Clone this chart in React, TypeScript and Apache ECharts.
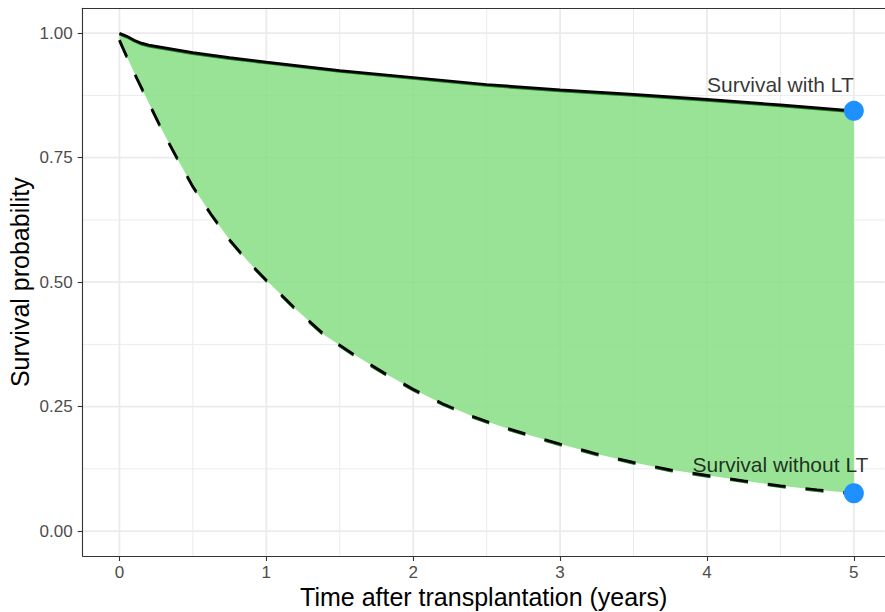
import React, { useEffect, useRef } from "react";
import * as echarts from "echarts";

// Survival with liver transplantation (solid)
const upperT = [0, 0.05, 0.1, 0.15, 0.2, 0.3, 0.5, 0.75, 1, 1.5, 2, 2.5, 3, 3.5, 4, 4.5, 5];
const upperS = [1.0, 0.994, 0.986, 0.98, 0.976, 0.971, 0.961, 0.951, 0.942, 0.925, 0.911, 0.897, 0.886, 0.877, 0.867, 0.856, 0.844];

// Survival without liver transplantation (dashed)
const lowerT = [0, 0.05, 0.1, 0.2, 0.3, 0.4, 0.5, 0.625, 0.75, 0.875, 1, 1.2, 1.4, 1.6, 1.8, 2, 2.2, 2.4, 2.6, 2.8, 3, 3.25, 3.5, 3.75, 4, 4.25, 4.5, 4.75, 5];
const lowerS = [0.986, 0.953, 0.921, 0.86, 0.8, 0.745, 0.692, 0.636, 0.585, 0.542, 0.504, 0.446, 0.393, 0.354, 0.318, 0.285, 0.256, 0.231, 0.21, 0.192, 0.175, 0.155, 0.138, 0.123, 0.112, 0.101, 0.091, 0.083, 0.076];

// End points (blue dots)
const endT = [5, 5];
const endS = [0.844, 0.076];

// Annotations
const labelT = [4.5, 4.5];
const labelS = [0.8966, 0.1334];
const labelText = ["Survival with LT", "Survival without LT"];

// Axis ticks and grid
const xTicks = [0, 1, 2, 3, 4, 5];
const xMinor = [0.5, 1.5, 2.5, 3.5, 4.5];
const yTicks = [0, 0.25, 0.5, 0.75, 1];
const yMinor = [0.125, 0.375, 0.625, 0.875];

const FONT = "Liberation Sans, Arial, Helvetica, sans-serif";
const X_MIN = -0.25;
const X_MAX = 5.21;

export default function App() {
  const ref = useRef<HTMLDivElement>(null);

  useEffect(() => {
    if (!ref.current) return;
    const chart = echarts.init(ref.current, undefined, { renderer: "svg" });

    const upperData = upperT.map((t, i) => [t, upperS[i]]);
    const lowerData = lowerT.map((t, i) => [t, lowerS[i]]);

    const vGrid = (vals: number[], width: number) => ({
      type: "custom",
      silent: true,
      z: 0,
      data: vals.map((v) => [v, 0]),
      encode: { x: 0, y: 1 },
      renderItem: (params: any, api: any) => {
        const cs = params.coordSys;
        const x = api.coord([api.value(0), 0])[0];
        return {
          type: "line",
          shape: { x1: x, y1: cs.y, x2: x, y2: cs.y + cs.height },
          style: { stroke: "#ebebeb", lineWidth: width },
        };
      },
    });
    const hGrid = (vals: number[], width: number) => ({
      type: "custom",
      silent: true,
      z: 0,
      data: vals.map((v) => [0, v]),
      encode: { x: 0, y: 1 },
      renderItem: (params: any, api: any) => {
        const cs = params.coordSys;
        const y = api.coord([0, api.value(1)])[1];
        return {
          type: "line",
          shape: { x1: cs.x, y1: y, x2: cs.x + cs.width, y2: y },
          style: { stroke: "#ebebeb", lineWidth: width },
        };
      },
    });

    const axisLine = { show: true, onZero: false, lineStyle: { color: "#333333", width: 1.1 } };

    const option: any = {
      animation: false,
      textStyle: { fontFamily: FONT },
      grid: {
        left: 82.7,
        right: 0.3,
        top: 8.3,
        bottom: 56,
        show: false,
        containLabel: false,
        outerBoundsMode: "none",
      },
      xAxis: [
        {
          type: "value",
          min: X_MIN,
          max: X_MAX,
          position: "bottom",
          axisLine,
          axisTick: {
            show: true,
            customValues: xTicks,
            length: 5,
            lineStyle: { color: "#333333", width: 1.1 },
          },
          axisLabel: {
            customValues: xTicks,
            color: "#4d4d4d",
            fontSize: 17,
            margin: 8,
            fontFamily: FONT,
            formatter: (v: number) => String(v),
          },
          splitLine: { show: false },
          name: "Time after transplantation (years)",
          nameLocation: "middle",
          nameGap: 28,
          nameMoveOverlap: false,
          nameTextStyle: { color: "#000", fontSize: 25, fontFamily: FONT },
        },
        {
          type: "value",
          min: X_MIN,
          max: X_MAX,
          position: "top",
          axisLine,
          axisTick: { show: false },
          axisLabel: { show: false },
          splitLine: { show: false },
        },
      ],
      yAxis: {
        type: "value",
        min: -0.05,
        max: 1.05,
        axisLine,
        axisTick: {
          show: true,
          customValues: yTicks,
          length: 5,
          lineStyle: { color: "#333333", width: 1.1 },
        },
        axisLabel: {
          customValues: yTicks,
          color: "#4d4d4d",
          fontSize: 17,
          margin: 10,
          fontFamily: FONT,
          formatter: (v: number) => v.toFixed(2),
        },
        splitLine: { show: false },
        name: "Survival probability",
        nameLocation: "middle",
        nameGap: 50,
        nameMoveOverlap: false,
        nameTextStyle: { color: "#000", fontSize: 25, fontFamily: FONT },
      },
      series: [
        vGrid(xMinor, 1),
        hGrid(yMinor, 1),
        vGrid(xTicks, 1.8),
        hGrid(yTicks, 1.8),
        {
          type: "custom",
          silent: true,
          z: 1,
          data: [[0, 1]],
          encode: { x: 0, y: 1 },
          renderItem: (_params: any, api: any) => {
            const up = upperData.map((p) => api.coord(p));
            const lo = lowerData.map((p) => api.coord(p));
            const poly = up.concat(lo.slice().reverse());
            return {
              type: "group",
              children: [
                {
                  type: "polygon",
                  shape: { points: poly },
                  style: { fill: "rgba(134,222,131,0.85)", stroke: "none" },
                },
                {
                  type: "polyline",
                  shape: { points: up.map((p: number[]) => [p[0], p[1] + 1.3]) },
                  style: { stroke: "#1d7a1d", lineWidth: 2, fill: "none" },
                },
                {
                  type: "polyline",
                  shape: { points: lo.map((p: number[]) => [p[0], p[1] + 1.3]) },
                  style: { stroke: "#1d7a1d", lineWidth: 2, fill: "none", lineDash: [18, 20] },
                },
              ],
            };
          },
        },
        {
          type: "line",
          z: 3,
          data: upperData,
          showSymbol: false,
          symbol: "none",
          lineStyle: { color: "#000", width: 2.7, cap: "butt" },
        },
        {
          type: "line",
          z: 3,
          data: lowerData,
          showSymbol: false,
          symbol: "none",
          lineStyle: { color: "#000", width: 2.7, type: [18, 20], cap: "butt" },
        },
        {
          type: "scatter",
          z: 4,
          data: endT.map((t, i) => [t, endS[i]]),
          symbol: "circle",
          symbolSize: 20,
          itemStyle: { color: "#1e90ff", opacity: 1 },
        },
        {
          type: "scatter",
          z: 5,
          data: labelT.map((t, i) => [t, labelS[i], labelText[i]]),
          symbolSize: 1,
          itemStyle: { color: "transparent" },
          label: {
            show: true,
            position: "inside",
            formatter: (p: any) => p.data[2],
            color: "#000",
            fontSize: 21,
            fontFamily: FONT,
          },
        },
      ],
    };

    chart.setOption(option);
    return () => chart.dispose();
  }, []);

  return (
    <div
      ref={ref}
      style={{ position: "fixed", left: 0, top: 0, width: 885, height: 612, background: "#fff" }}
    />
  );
}
